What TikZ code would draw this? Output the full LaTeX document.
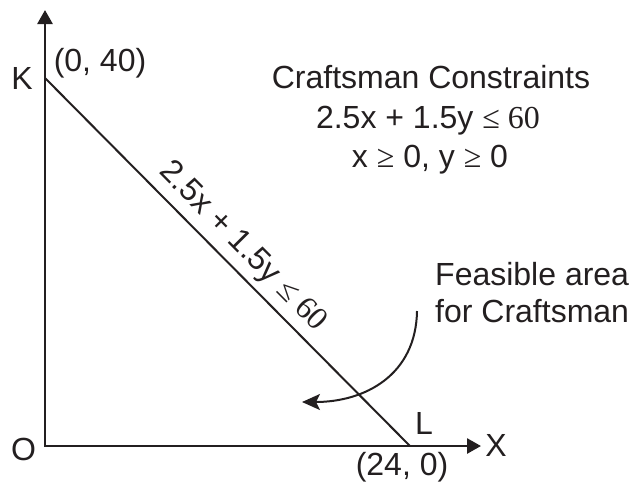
\documentclass[tikz,border=0pt]{standalone}
\usepackage{fontspec}
\setmainfont{Liberation Sans}
\newfontfamily\serifsym{Liberation Serif}
\usetikzlibrary{arrows.meta,positioning}
\definecolor{ink}{HTML}{231F20}

\begin{document}
\begin{tikzpicture}[
  x=1pt, y=-1pt,
  font=\fontsize{32}{38}\selectfont,
  txt/.style={inner sep=0pt, text=ink},
  axis/.style={line width=2.7pt, draw=ink, {Triangle[length=14pt,width=15pt]}-{Triangle[length=14pt,width=15pt]}},
  edge/.style={line width=2pt, draw=ink},
  arr/.style={-{Stealth[length=18pt,width=16pt,inset=4pt]}, line width=2pt, draw=ink}
]
\useasboundingbox (0,0) rectangle (636,488);
% axes and constraint line
\coordinate (O) at (45,446);
\coordinate (ytip) at (45,10);
\coordinate (xtip) at (481,446);
\coordinate (K) at (45,78);
\coordinate (L) at (410,446);
\draw[axis] (ytip) -- (O) -- (xtip);
\draw[edge] (K) -- (L) node[txt, sloped, above=6pt, pos=0.5] (eqn) {2.5x + 1.5y {\serifsym ≤ 60}};
% point labels
\node[txt, left=12pt of K] (klbl) {K};
\node[txt] (kval) at (100,63.5) {(0, 40)};
\node[txt] (olbl) at (23.5,449) {O};
\node[txt] (llbl) at (424,423.5) {L};
\node[txt] (xlbl) at (496,445) {X};
\node[txt] (lval) at (402,467.5) {(24, 0)};
% constraints
\node[txt, anchor=base] (title) at (431,88) {Craftsman Constraints};
\node[txt, anchor=base] (cons1) at (428,128) {2.5x + 1.5y {\serifsym ≤ 60}};
\node[txt, anchor=base] (cons2) at (430,167) {x {\serifsym ≥} 0, y {\serifsym ≥} 0};
% feasible area
\node[txt, anchor=base west] (feas) at (435,285) {Feasible area};
\node[txt, anchor=base west] (feas2) at (435,322) {for Craftsman};
\coordinate (fstart) at (417,311);
\coordinate (ftip) at (302,402);
\draw[arr] (fstart) .. controls (416,375) and (365,402) .. (ftip);
\end{tikzpicture}
\end{document}
